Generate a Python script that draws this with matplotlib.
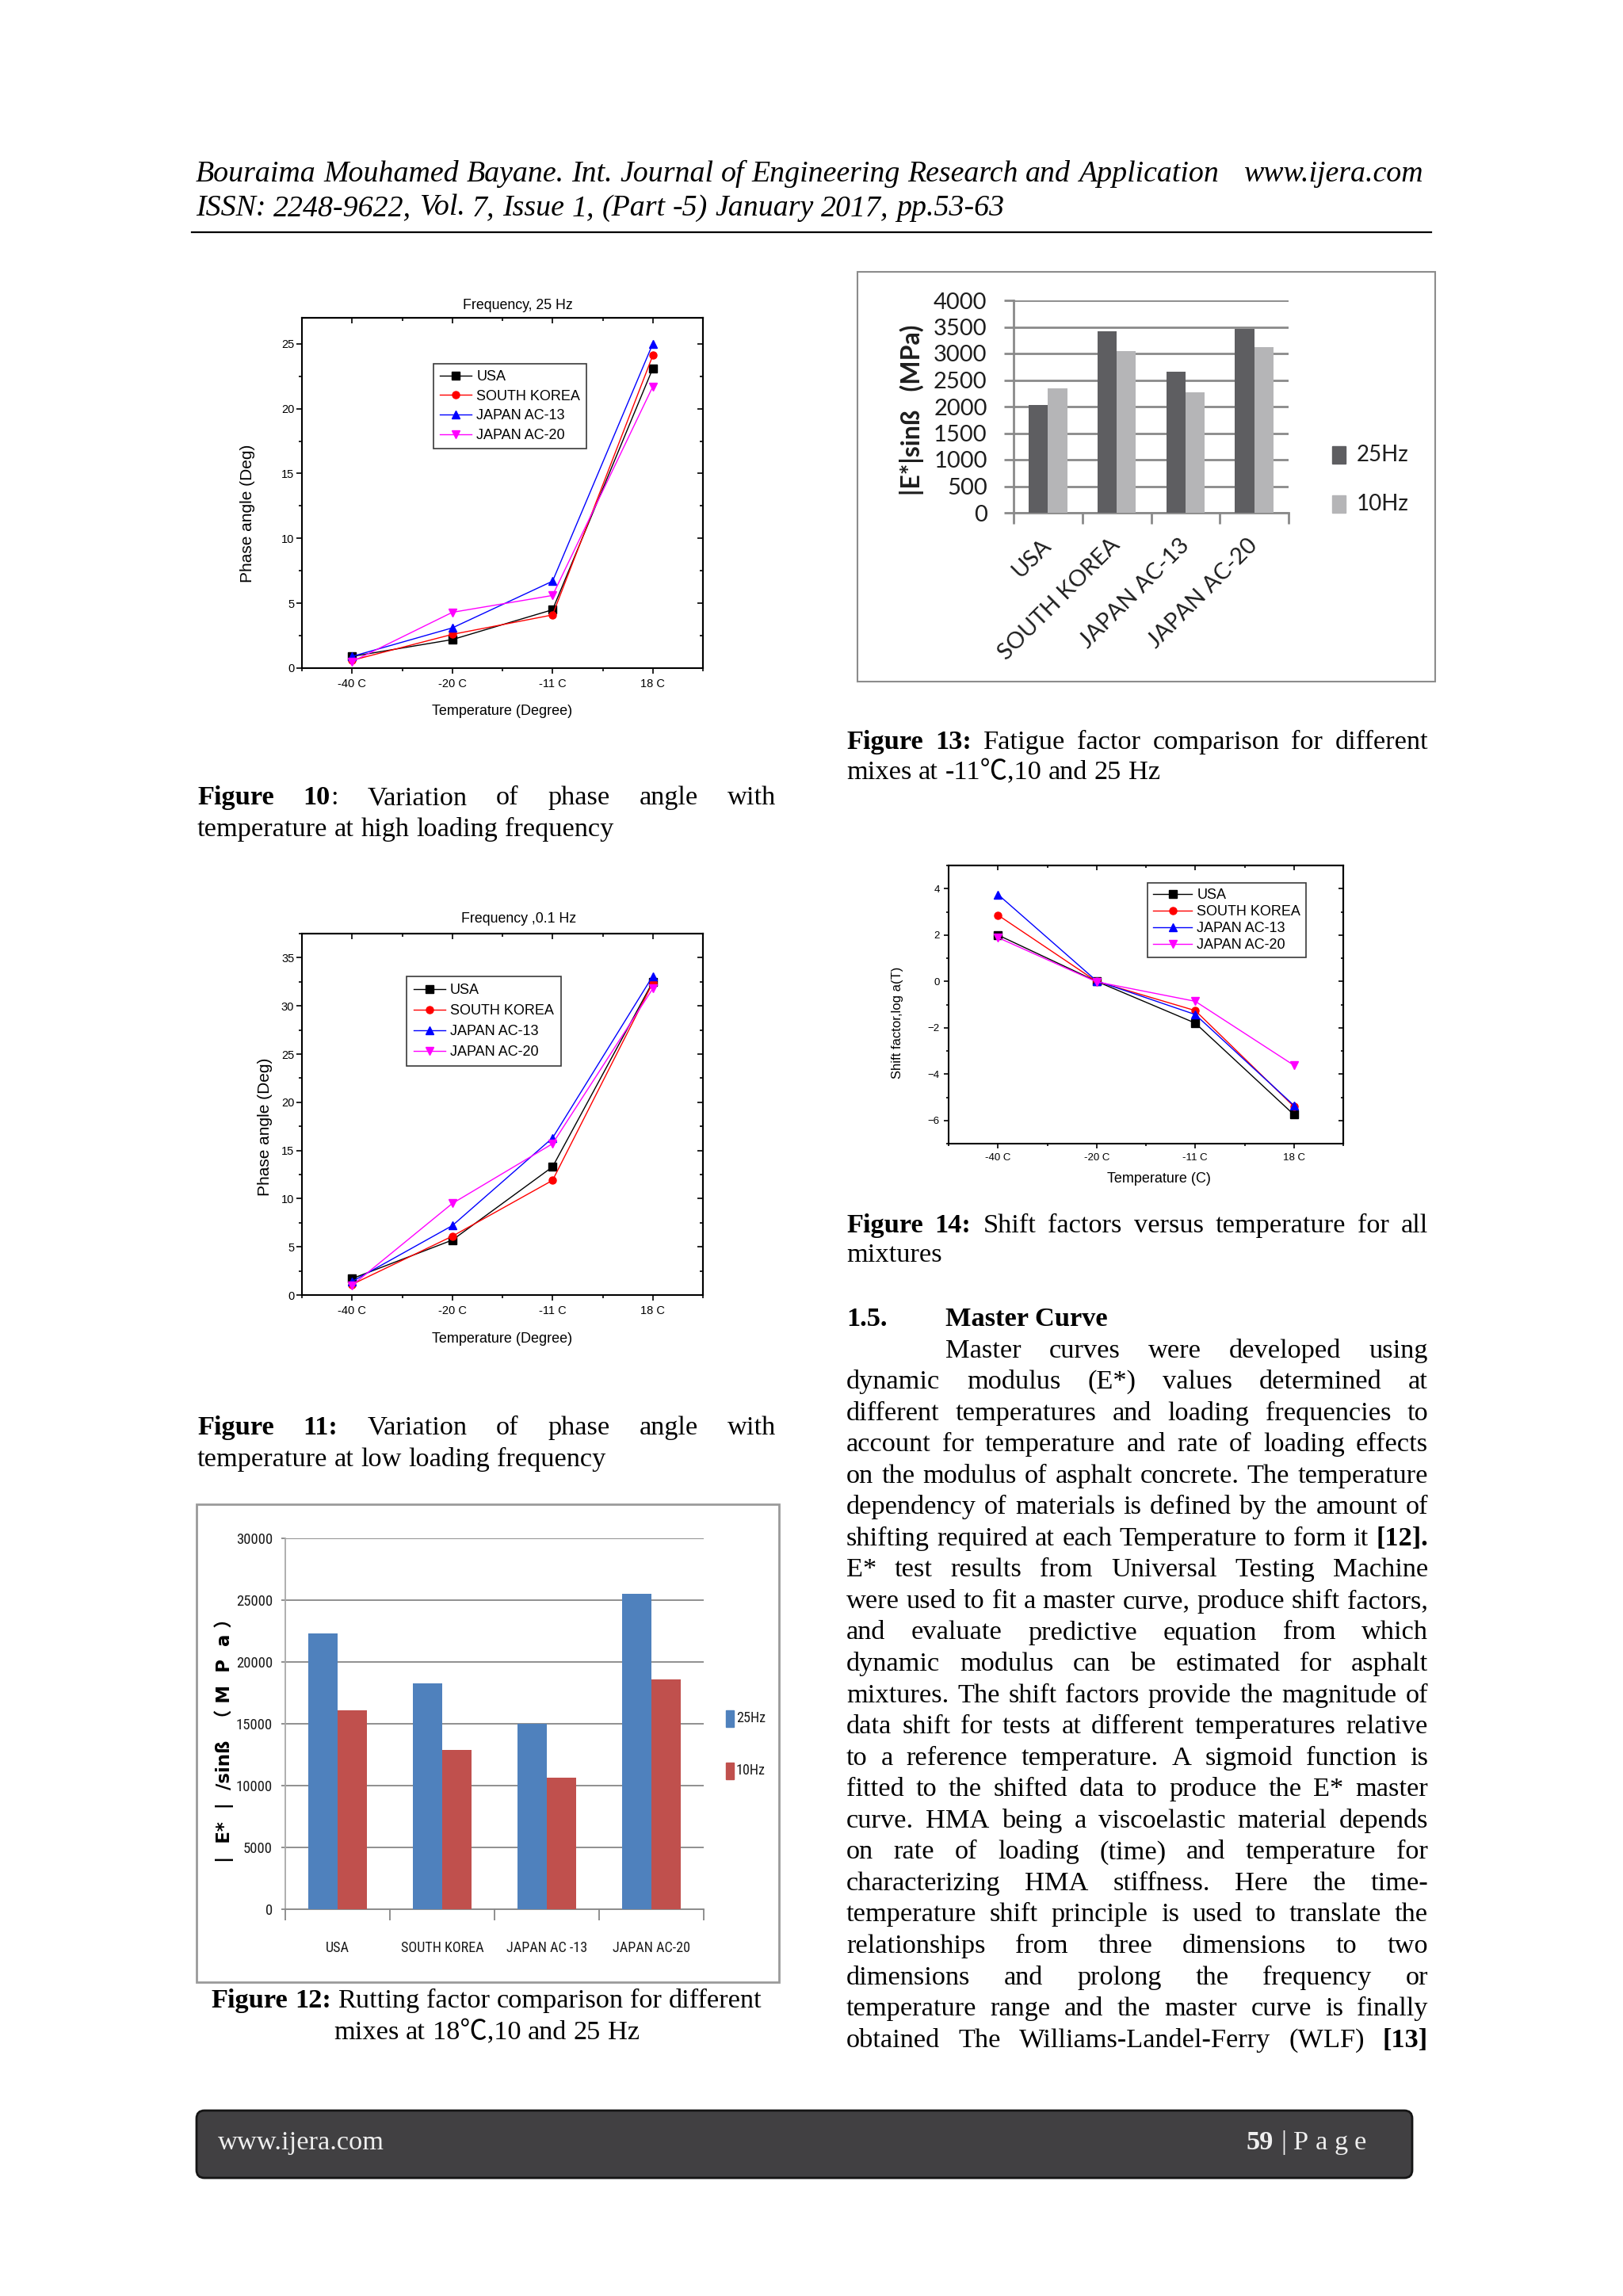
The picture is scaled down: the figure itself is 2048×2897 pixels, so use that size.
import matplotlib
matplotlib.use('Agg')
import numpy as np
import matplotlib.pyplot as plt
import matplotlib.font_manager as fm
from matplotlib.ticker import MultipleLocator, FixedLocator, NullFormatter
from matplotlib.patches import Rectangle, FancyBboxPatch
from matplotlib.transforms import ScaledTranslation

# ------------------------------------------------------------------ data
temps = ['-40 C', '-20 C', '-11 C', '18 C']
mixes = ['USA', 'SOUTH KOREA', 'JAPAN AC-13', 'JAPAN AC-20']
mixes_fig12 = ['USA', 'SOUTH KOREA', 'JAPAN AC -13', 'JAPAN AC-20']
freq_names = ['25Hz', '10Hz']

# Figure 10: phase angle, 25 Hz
phase25_usa = [0.9, 2.2, 4.5, 23.1]
phase25_korea = [0.6, 2.6, 4.1, 24.1]
phase25_jac13 = [0.9, 3.1, 6.7, 25.0]
phase25_jac20 = [0.5, 4.3, 5.6, 21.7]

# Figure 11: phase angle, 0.1 Hz
phase01_usa = [1.7, 5.7, 13.3, 32.5]
phase01_korea = [1.1, 6.1, 11.9, 32.4]
phase01_jac13 = [1.4, 7.2, 16.3, 33.1]
phase01_jac20 = [1.0, 9.5, 15.7, 31.8]

# Figure 14: shift factors log a(T)
shift_usa = [2.0, 0.0, -1.8, -5.75]
shift_korea = [2.86, 0.0, -1.26, -5.4]
shift_jac13 = [3.75, 0.02, -1.43, -5.35]
shift_jac20 = [1.89, -0.02, -0.86, -3.62]

# Figure 13: fatigue factor |E*|sinB (MPa) at -11 C
fatigue_25hz = [2030, 3420, 2650, 3470]
fatigue_10hz = [2340, 3040, 2265, 3115]

# Figure 12: rutting factor |E*|/sinB (MPa) at 18 C
rutting_25hz = [22300, 18300, 15000, 25500]
rutting_10hz = [16100, 12900, 10650, 18600]

# ------------------------------------------------------------------ setup
W, H = 2048, 2897
fig = plt.figure(figsize=(W / 100, H / 100), dpi=100)
fig.patch.set_facecolor('white')

SANS = ['Liberation Sans', 'DejaVu Sans']
SERIF = ['Liberation Serif', 'Noto Sans CJK SC', 'DejaVu Sans']
CALI = ['Lato', 'DejaVu Sans']
plt.rcParams['font.family'] = SANS

_names = {f.name for f in fm.fontManager.ttflist}
if 'Liberation Sans Narrow' in _names:
    NARROW, NSCALE = ['Liberation Sans Narrow', 'DejaVu Sans'], 1.0
elif 'Roboto Condensed' in _names:
    NARROW, NSCALE = ['Roboto Condensed', 'DejaVu Sans'], 0.93
else:
    NARROW, NSCALE = ['Liberation Sans', 'DejaVu Sans'], 0.82

BODY = 24.76   # 10 pt on the page
HEAD = 27.3

# background pixel-coordinate axes
bg = fig.add_axes([0, 0, 1, 1])
bg.set_xlim(0, W)
bg.set_ylim(H, 0)
bg.axis('off')
bg.set_zorder(-5)


def axes_px(x0, y0, x1, y1):
    return fig.add_axes([x0 / W, 1 - y1 / H, (x1 - x0) / W, (y1 - y0) / H])


def ftext(x, y, s, **kw):
    return fig.text(x / W, 1 - y / H, s, **kw)


renderer = fig.canvas.get_renderer()


def parse(line):
    words, bold = [], False
    for raw in line.split(' '):
        if raw == '':
            continue
        segs = []
        parts = raw.split('**')
        for i, p in enumerate(parts):
            if i > 0:
                bold = not bold
            if p:
                segs.append((p, bold))
        words.append(segs)
    return words


def draw_line(line, x0, x1, y, size=BODY, mode='justify', style='normal', color='black'):
    items = []
    for w in parse(line):
        ts, wd = [], 0.0
        for s, b in w:
            t = bg.text(0, y, s, fontsize=size, family=SERIF,
                        fontweight='bold' if b else 'normal', fontstyle=style,
                        color=color, va='baseline', ha='left')
            ww = t.get_window_extent(renderer).width
            ts.append((t, ww))
            wd += ww
        items.append((ts, wd))
    space = size * 100 / 72 * 0.25
    total = sum(wd for _, wd in items)
    n = len(items)
    if mode == 'justify' and n > 1:
        gap = (x1 - x0 - total) / (n - 1)
        start = x0
    elif mode == 'center':
        gap = space
        start = (x0 + x1) / 2 - (total + gap * (n - 1)) / 2
    else:
        gap = space
        start = x0
    x = start
    for ts, wd in items:
        xx = x
        for t, ww in ts:
            t.set_x(xx)
            xx += ww
        x += wd + gap


# ------------------------------------------------------------------ header
draw_line('Bouraima Mouhamed Bayane. Int. Journal of Engineering Research and Application',
          247, 1600, 229, size=HEAD, mode='left', style='italic')
bg.text(1796, 229, 'www.ijera.com', fontsize=HEAD, family=SERIF, fontstyle='italic',
        ha='right', va='baseline')
draw_line('ISSN: 2248-9622, Vol. 7, Issue 1, (Part -5) January 2017, pp.53-63',
          247, 1600, 272, size=HEAD, mode='left', style='italic')
bg.plot([242, 1806], [293, 293], color='black', lw=1.6)


# ------------------------------------------------------------------ Origin-style line charts
def origin_chart(rect, series, ylim, ymaj, ymin, tick_fs, tick_len, pad_x, pad_y,
                 leg_xy, leg_fs, leg_kw):
    ax = axes_px(*rect)
    pos = np.arange(1, len(temps) + 1)
    for name, vals, col, mk in series:
        ax.plot(pos, vals, color=col, marker=mk, lw=1.0, ms=6.5, mfc=col, mec=col, label=name)
    ax.set_xlim(0.5, len(temps) + 0.5)
    ax.set_ylim(*ylim)
    ax.set_xticks(pos, temps)
    ax.xaxis.set_minor_locator(MultipleLocator(0.5))
    ax.yaxis.set_major_locator(MultipleLocator(ymaj))
    ax.yaxis.set_minor_locator(MultipleLocator(ymin))
    ax.tick_params(which='major', direction='out', length=tick_len, width=1.2, labelsize=tick_fs)
    ax.tick_params(which='minor', direction='out', length=tick_len * 0.55, width=1.2)
    ax.tick_params(axis='x', pad=pad_x)
    ax.tick_params(axis='y', pad=pad_y)
    for sp in ax.spines.values():
        sp.set_linewidth(1.5)
    sx = ax.secondary_xaxis('top')
    sx.set_xticks(pos)
    sx.xaxis.set_major_formatter(NullFormatter())
    sx.xaxis.set_minor_locator(MultipleLocator(0.5))
    sx.tick_params(which='major', direction='in', length=tick_len, width=1.2)
    sx.tick_params(which='minor', direction='in', length=tick_len * 0.55, width=1.2)
    sx.spines['top'].set_linewidth(1.5)
    sy = ax.secondary_yaxis('right')
    sy.yaxis.set_major_locator(MultipleLocator(ymaj))
    sy.yaxis.set_minor_locator(MultipleLocator(ymin))
    sy.yaxis.set_major_formatter(NullFormatter())
    sy.tick_params(which='major', direction='in', length=tick_len, width=1.2)
    sy.tick_params(which='minor', direction='in', length=tick_len * 0.55, width=1.2)
    sy.spines['right'].set_linewidth(1.5)
    leg = ax.legend(loc='upper left', bbox_to_anchor=(leg_xy[0] / W, 1 - leg_xy[1] / H),
                    bbox_transform=fig.transFigure, borderaxespad=0, fancybox=False,
                    edgecolor='#3a3a3a', framealpha=1, prop={'family': SANS, 'size': leg_fs},
                    **leg_kw)
    leg.get_frame().set_linewidth(1.2)
    return ax


def series_list(a, b, c, d):
    return [(mixes[0], a, 'black', 's'), (mixes[1], b, 'red', 'o'),
            (mixes[2], c, 'blue', '^'), (mixes[3], d, 'magenta', 'v')]


# Figure 10
origin_chart((381, 401, 887, 843),
             series_list(phase25_usa, phase25_korea, phase25_jac13, phase25_jac20),
             (0, 27), 5, 2.5, 10.5, 5, 4.7, 2, (547, 459), 13,
             dict(handlelength=2.2, handletextpad=0.35, labelspacing=0.42, borderpad=0.45))
ftext(653, 386, 'Frequency, 25 Hz', ha='center', va='center', fontsize=12.8)
ftext(313, 648, 'Phase angle (Deg)', rotation=90, ha='center', va='center', fontsize=15)
ftext(634, 897, 'Temperature (Degree)', ha='center', va='center', fontsize=13)

# Figure 11
origin_chart((381, 1178, 887, 1634),
             series_list(phase01_usa, phase01_korea, phase01_jac13, phase01_jac20),
             (0, 37.5), 5, 2.5, 10.5, 5, 4.7, 2, (513, 1232), 13,
             dict(handlelength=2.2, handletextpad=0.35, labelspacing=0.5, borderpad=0.5))
ftext(655, 1159, 'Frequency ,0.1 Hz', ha='center', va='center', fontsize=12.8)
ftext(334, 1422, 'Phase angle (Deg)', rotation=90, ha='center', va='center', fontsize=15)
ftext(634, 1689, 'Temperature (Degree)', ha='center', va='center', fontsize=13)

# Figure 14
origin_chart((1197, 1092, 1695, 1443),
             series_list(shift_usa, shift_korea, shift_jac13, shift_jac20),
             (-7, 5), 2, 1, 9.5, 4.5, 4.3, 3.6, (1448, 1114), 13,
             dict(handlelength=2.7, handletextpad=0.35, labelspacing=0.22, borderpad=0.4))
ftext(1133, 1290, 'Shift factor,log a(T)', rotation=90, ha='center', va='center', fontsize=12)
ftext(1462, 1488, 'Temperature (C)', ha='center', va='center', fontsize=13)

# ------------------------------------------------------------------ Figure 13 (gray bars)
C25G, C10G, G13 = '#5e5e61', '#b5b5b7', '#8a8a8a'
bg.add_patch(Rectangle((1082, 343), 729, 517, fill=False, ec='#8c8c8c', lw=1.5))
ax13 = axes_px(1279, 379, 1626, 647)
xs = np.arange(len(mixes))
bw = 0.28
ax13.bar(xs - bw / 2, fatigue_25hz, bw, color=C25G, zorder=3)
ax13.bar(xs + bw / 2, fatigue_10hz, bw, color=C10G, zorder=3)
ax13.set_xlim(-0.5, len(mixes) - 0.5)
ax13.set_ylim(0, 4000)
ax13.yaxis.set_major_locator(MultipleLocator(500))
ax13.grid(axis='y', color=G13, lw=2.0, zorder=0)
ax13.set_axisbelow(True)
for s in ('top', 'right'):
    ax13.spines[s].set_visible(False)
for s in ('left', 'bottom'):
    ax13.spines[s].set_color(G13)
    ax13.spines[s].set_linewidth(2.0)
ax13.tick_params(axis='y', length=9, width=2, color=G13, pad=15, labelsize=21,
                 labelcolor='#1e1e1e')
ax13.set_xticks(xs)
ax13.set_xticklabels(mixes, rotation=45, ha='right', va='top', rotation_mode='anchor',
                     fontsize=21, color='#1e1e1e')
ax13.tick_params(axis='x', which='major', length=0, pad=20)
ax13.xaxis.set_minor_locator(FixedLocator(np.arange(-0.5, len(mixes), 1.0)))
ax13.tick_params(axis='x', which='minor', length=10, width=2, color=G13)
for t in ax13.get_xticklabels():
    t.set_fontfamily(CALI)
    t.set_transform(t.get_transform() + ScaledTranslation(-0.09, 0, fig.dpi_scale_trans))
for t in ax13.get_yticklabels():
    t.set_fontfamily(CALI)
ftext(1150, 517, '|E*|sinß   (MPa)', rotation=90, ha='center', va='center',
      fontsize=23, fontweight='bold', family=CALI, color='#1e1e1e')
for name, col, yy in zip(freq_names, [C25G, C10G], [574, 636]):
    bg.add_patch(Rectangle((1681, yy - 11), 17, 22, color=col))
    bg.text(1712, yy, name, fontsize=20, family=CALI, va='center', ha='left', color='#1e1e1e')

# ------------------------------------------------------------------ Figure 12 (blue/red bars)
BLUE, RED, G12 = '#4f81bd', '#c0504d', '#878787'
bg.add_patch(Rectangle((248, 1898), 735, 603, fill=False, ec='#9a9a9a', lw=2))
ax12 = axes_px(360, 1941, 888, 2409)
ax12.bar(xs - bw / 2, rutting_25hz, bw, color=BLUE, zorder=3)
ax12.bar(xs + bw / 2, rutting_10hz, bw, color=RED, zorder=3)
ax12.set_xlim(-0.5, len(mixes) - 0.5)
ax12.set_ylim(0, 30000)
ax12.yaxis.set_major_locator(MultipleLocator(5000))
ax12.grid(axis='y', color=G12, lw=1.3, zorder=0)
ax12.set_axisbelow(True)
for s in ('top', 'right'):
    ax12.spines[s].set_visible(False)
ax12.spines['left'].set_color('#a8a8a8')
ax12.spines['bottom'].set_color(G12)
ax12.spines['left'].set_linewidth(1.3)
ax12.spines['bottom'].set_linewidth(1.3)
ax12.tick_params(axis='y', length=3.6, width=1.3, color=G12, pad=8, labelsize=14.5 * NSCALE,
                 labelcolor='#1a1a1a')
ax12.set_xticks(xs)
ax12.set_xticklabels(mixes_fig12, fontsize=14 * NSCALE, color='#1a1a1a')
ax12.tick_params(axis='x', which='major', length=0, pad=29)
ax12.xaxis.set_minor_locator(FixedLocator(np.arange(-0.5, len(mixes), 1.0)))
ax12.tick_params(axis='x', which='minor', length=10, width=1.3, color=G12)
for t in ax12.get_xticklabels() + ax12.get_yticklabels():
    t.set_fontfamily(NARROW)
ftext(283, 2190, '|  E*  |  /sinß  （ M  P  a ）', rotation=90, ha='center', va='center',
      fontsize=16.5, fontweight='bold', family=['DejaVu Sans', 'Noto Sans CJK SC'])
for name, col, yy in zip(freq_names, [BLUE, RED], [2168, 2234]):
    bg.add_patch(Rectangle((916, yy - 10.5), 10, 21, color=col))
    bg.text(929, yy, name, fontsize=14 * NSCALE, family=NARROW, va='center', ha='left',
            color='#1a1a1a')

# ------------------------------------------------------------------ captions
L0, L1 = 249, 979
R0, R1 = 1068, 1802
draw_line('**Figure 10**: Variation of phase angle with', L0, L1, 1015)
draw_line('temperature at high loading frequency', L0, L1, 1055, mode='left')
draw_line('**Figure 11:** Variation of phase angle with', L0, L1, 1810)
draw_line('temperature at low loading frequency', L0, L1, 1850, mode='left')
draw_line('**Figure 12:** Rutting factor comparison for different', L0, L1, 2533, mode='center')
draw_line('mixes at 18℃,10 and 25 Hz', L0, L1, 2573, mode='center')
draw_line('**Figure 13:** Fatigue factor comparison for different', R0, R1, 945)
draw_line('mixes at -11℃,10 and 25 Hz', R0, R1, 983, mode='left')
draw_line('**Figure 14:** Shift factors versus temperature for all', R0, R1, 1555)
draw_line('mixtures', R0, R1, 1592, mode='left')

# ------------------------------------------------------------------ body text
body = [
    "Master curves were developed using",
    "dynamic modulus (E*) values determined at",
    "different temperatures and loading frequencies to",
    "account for temperature and rate of loading effects",
    "on the modulus of asphalt concrete. The temperature",
    "dependency of materials is defined by the amount of",
    "shifting required at each Temperature to form it **[12].**",
    "E* test results from Universal Testing Machine",
    "were used to fit a master curve, produce shift factors,",
    "and evaluate predictive equation from which",
    "dynamic modulus can be estimated for asphalt",
    "mixtures. The shift factors provide the magnitude of",
    "data shift for tests at different temperatures relative",
    "to a reference temperature. A sigmoid function is",
    "fitted to the shifted data to produce the E* master",
    "curve. HMA being a viscoelastic material depends",
    "on rate of loading (time) and temperature for",
    "characterizing HMA stiffness. Here the time-",
    "temperature shift principle is used to translate the",
    "relationships from three dimensions to two",
    "dimensions and prolong the frequency or",
    "temperature range and the master curve is finally",
    "obtained The Williams-Landel-Ferry (WLF) **[13]**",
]
base0, lead = 1673, 39.55
bg.text(R0, base0, '1.5.', fontsize=BODY, family=SERIF, fontweight='bold', va='baseline')
bg.text(1193, base0, 'Master Curve', fontsize=BODY, family=SERIF, fontweight='bold',
        va='baseline')
for i, line in enumerate(body):
    x0 = 1193 if i == 0 else R0
    draw_line(line, x0, R1, base0 + (i + 1) * lead)

# ------------------------------------------------------------------ footer
bg.add_patch(FancyBboxPatch((248, 2663), 1534, 85, boxstyle='round,pad=0,rounding_size=10',
                            fc='#414042', ec='#151515', lw=2))
bg.text(275, 2712, 'www.ijera.com', fontsize=BODY, family=SERIF, color='#efefef',
        va='baseline')
draw_line('**59** | P a g e', 1573, 1760, 2712, mode='left', color='#efefef')

fig.savefig('out.png', dpi=100, facecolor='white')
